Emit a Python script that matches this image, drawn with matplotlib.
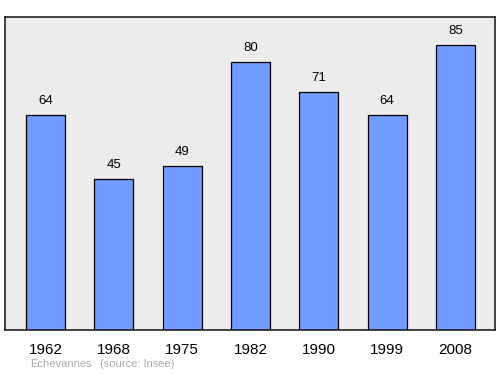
import matplotlib.pyplot as plt

plt.rcParams['font.family'] = ['Liberation Sans', 'DejaVu Sans']

years = ['1962', '1968', '1975', '1982', '1990', '1999', '2008']
population = [64, 45, 49, 80, 71, 64, 85]

fig = plt.figure(figsize=(5, 3.74), dpi=100)
ax = fig.add_axes([0.01, 0.1176, 0.98, 0.8369])
ax.set_facecolor('#ececec')

x = range(len(years))
ax.bar(x, population, width=0.57, color='#729bff', edgecolor='black', linewidth=0.9, zorder=2)

for i, v in zip(x, population):
    ax.text(i, v + 2.4, str(v), ha='center', va='bottom', fontsize=9.5)

ax.set_xlim(-0.593, 6.578)
ax.set_ylim(0, 93.3)
ax.set_yticks([])
ax.set_xticks(list(x))
ax.set_xticklabels(years, fontsize=11)
ax.tick_params(axis='x', length=0, pad=9)
for s in ax.spines.values():
    s.set_linewidth(1.2)
    s.set_color('#222222')

fig.text(0.06, 0.018, 'Échevannes', fontsize=8, color='#aaaaaa')
fig.text(0.2, 0.018, '(source: Insee)', fontsize=8, color='#aaaaaa')

fig.savefig('out.png', dpi=100)
